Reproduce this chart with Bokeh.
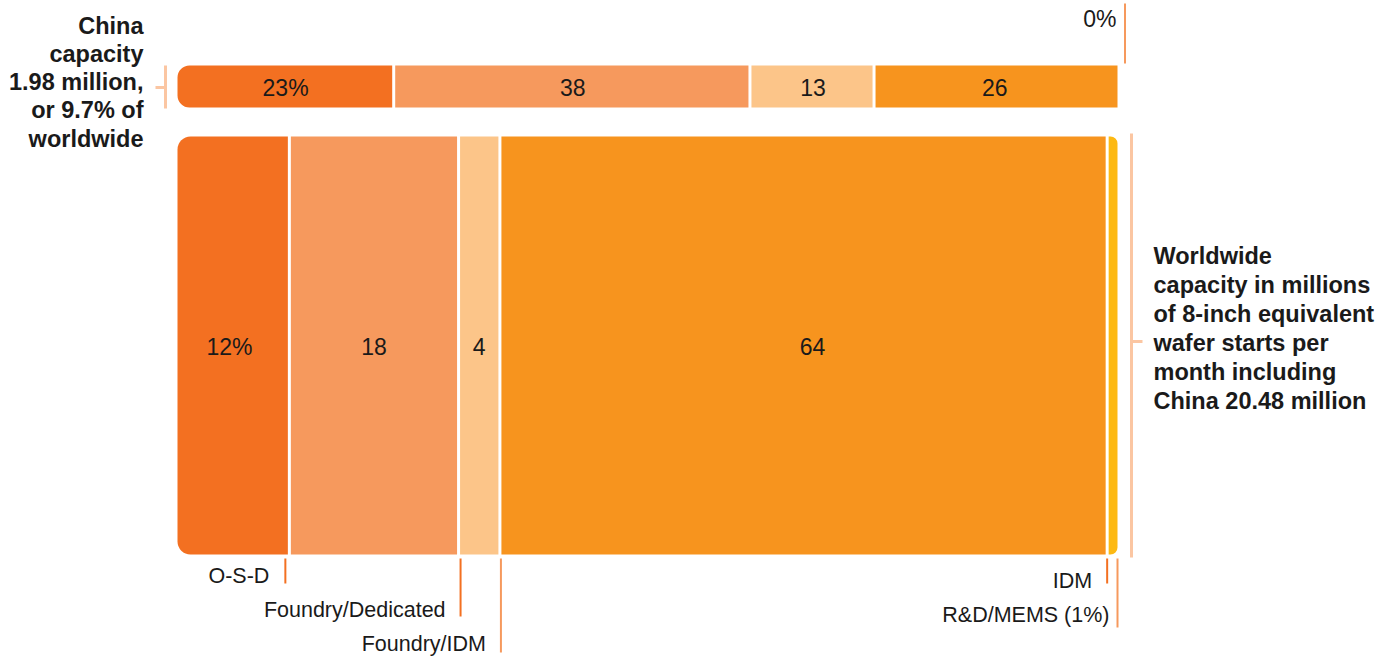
from bokeh.plotting import figure
from bokeh.models import Range1d
from bokeh.core.properties import value
from bokeh.embed import file_html
from bokeh.resources import INLINE

# ---------------- data ----------------
segments = ["O-S-D", "Foundry/Dedicated", "Foundry/IDM", "IDM", "R&D/MEMS"]
seg_colors = ["#F37021", "#F6995D", "#FCC589", "#F7941E", "#FDB913"]
china_share = [23.0, 37.9, 13.2, 25.9, 0.0]
china_labels = ["23%", "38", "13", "26", "0%"]
world_share = [11.9, 18.0, 4.4, 64.6, 1.1]
world_labels = ["12%", "18", "4", "64", ""]
bottom_labels = ["O-S-D", "Foundry/Dedicated", "Foundry/IDM", "IDM", "R&D/MEMS (1%)"]
china_note = ["China", "capacity", "1.98 million,", "or 9.7% of", "worldwide"]
world_note = ["Worldwide", "capacity in millions", "of 8-inch equivalent",
              "wafer starts per", "month including", "China 20.48 million"]

# ---------------- layout ----------------
W, H = 1398, 657
PX = 9.4            # pixels per percent
X0_PX = 177         # pixel where 0% sits inside the figure
FONT = value("Liberation Sans")
TXT = "#1a1a1a"
BRACKET = "#FBC6A2"
IN_SIZE = "23px"
LAB_SIZE = "21.5px"
NOTE_SIZE = "23.5px"
BASE_FIX = -8       # svg baseline correction


def xp(page_x):
    """pixel -> percent coordinate"""
    return (page_x - X0_PX) / PX


def yp(page_y):
    return page_y


def yb(baseline):
    return baseline + BASE_FIX


p = figure(width=W, height=H, output_backend="svg", toolbar_location=None,
           x_axis_type=None, y_axis_type=None,
           x_range=Range1d(-X0_PX / PX, (W - X0_PX) / PX),
           y_range=Range1d(H, 0), min_border=0)
p.grid.visible = False
p.outline_line_color = None
p.background_fill_color = "white"
p.border_fill_color = "white"

GAP = 1.5 / PX


def draw_bar(shares, labels, top, bottom, left_radius, right_radius, nudges):
    c = 0.0
    idx = [i for i, s in enumerate(shares) if s > 0]
    first, last = idx[0], idx[-1]
    for i, s in enumerate(shares):
        start, end = c, c + s
        c = end
        if s <= 0:
            continue
        l = start + (GAP if i != first else 0)
        r = end - (GAP if i != last else 0)
        br = 0
        if i == first:
            br = (left_radius, 0, 0, left_radius)
        elif i == last and right_radius:
            br = (0, right_radius, right_radius, 0)
        p.quad(left=[l], right=[r], top=[top], bottom=[bottom],
               fill_color=seg_colors[i], line_color=None, border_radius=br)
        if labels[i]:
            p.text(x=[(start + end) / 2 + nudges[i] / PX], y=[(top + bottom) / 2 + 1],
                   text=[labels[i]], text_font=FONT, text_font_size=IN_SIZE,
                   text_color=TXT, text_align="center", text_baseline="middle")


# top bar (China)
draw_bar(china_share, china_labels[:4] + [""], yp(65), yp(107), 12, 0, [0, 1, 1, -1, 0])
# bottom bar (worldwide)
draw_bar(world_share, world_labels, yp(136), yp(554), 13, 7, [-4, 0, 0, 9, 0])

# 0% label for China R&D
p.segment(x0=[100 + 7.5 / PX], x1=[100 + 7.5 / PX], y0=[yp(3)], y1=[yp(63)],
          line_color="#F6995D", line_width=2)
p.text(x=[100 - 1 / PX], y=[yb(26)], text=[china_labels[4]], text_font=FONT,
       text_font_size=IN_SIZE, text_color=TXT, text_align="right",
       text_baseline="alphabetic")

# bottom leader lines and labels
ends = []
c = 0.0
for s in world_share:
    c += s
    ends.append(c)
line_off = [-4, 2, 1, 0, 0]          # px nudges
line_bottom = [583, 616, 652, 583, 627]
label_base = [583, 617, 651, 588, 622]
label_gap = [16, 15, 15, 15, 8]
line_cols = ["#F37021", "#F37021", "#F6995D", "#F37021", "#F6995D"]
for i, e in enumerate(ends):
    x = e + line_off[i] / PX
    p.segment(x0=[x], x1=[x], y0=[yp(558)], y1=[yp(line_bottom[i])],
              line_color=line_cols[i], line_width=2)
    p.text(x=[x - label_gap[i] / PX], y=[yb(label_base[i])], text=[bottom_labels[i]],
           text_font=FONT, text_font_size=LAB_SIZE, text_color=TXT,
           text_align="right", text_baseline="alphabetic")

# left bracket + note
p.segment(x0=[xp(165)], x1=[xp(165)], y0=[yp(65)], y1=[yp(108)],
          line_color=BRACKET, line_width=3)
p.segment(x0=[xp(155)], x1=[xp(165)], y0=[yp(87)], y1=[yp(87)],
          line_color=BRACKET, line_width=3)
left_base = [33, 61, 89, 117, 146]
for t, b in zip(china_note, left_base):
    p.text(x=[xp(143)], y=[yb(b)], text=[t], text_font=FONT, text_font_size=NOTE_SIZE,
           text_font_style="bold", text_color=TXT, text_align="right",
           text_baseline="alphabetic")

# right bracket + note
p.segment(x0=[xp(1131)], x1=[xp(1131)], y0=[yp(133)], y1=[yp(557)],
          line_color=BRACKET, line_width=3)
p.segment(x0=[xp(1131)], x1=[xp(1142)], y0=[yp(341)], y1=[yp(341)],
          line_color=BRACKET, line_width=3)
right_base = [263, 292, 321, 350, 379, 408]
for t, b in zip(world_note, right_base):
    p.text(x=[xp(1153)], y=[yb(b)], text=[t], text_font=FONT, text_font_size=NOTE_SIZE,
           text_font_style="bold", text_color=TXT, text_align="left",
           text_baseline="alphabetic")

open("out.html", "w").write(file_html(p, INLINE))
